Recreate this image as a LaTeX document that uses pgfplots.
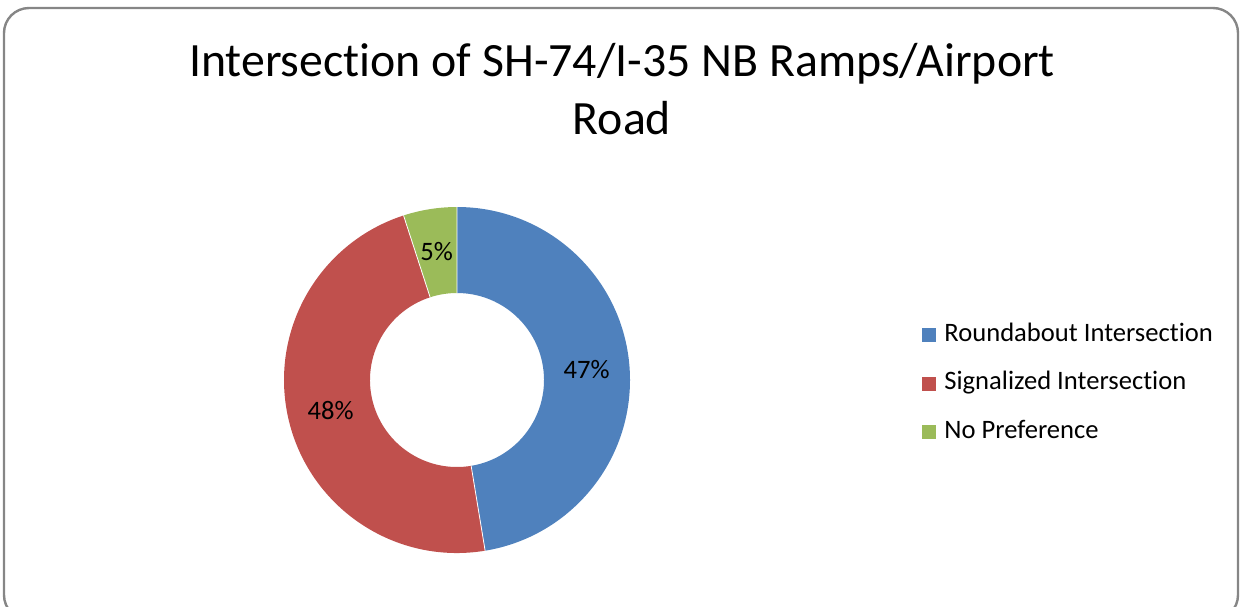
\documentclass[border=0pt]{standalone}
\usepackage{fontspec}
\setmainfont[Ligatures=NoCommon]{Carlito}
\usepackage{pgfplots}
\usepackage{pgfplotstable}
\pgfplotsset{compat=1.18}
\definecolor{cBlue}{HTML}{4F81BD}
\definecolor{cRed}{HTML}{C0504D}
\definecolor{cGreen}{HTML}{9BBB59}
\definecolor{cFrame}{HTML}{868686}

\pgfplotstableread{
name value
Roundabout 47.4
Signalized 47.6
NoPreference 5.0
}\donutdata

\begin{document}
\begin{tikzpicture}
\pgfplotstablegetelem{0}{value}\of\donutdata \let\vA\pgfplotsretval
\pgfplotstablegetelem{1}{value}\of\donutdata \let\vB\pgfplotsretval
\pgfplotstablegetelem{2}{value}\of\donutdata \let\vC\pgfplotsretval
\pgfmathsetmacro\tot{\vA+\vB+\vC}
\pgfmathsetmacro\fA{\vA/\tot}
\pgfmathsetmacro\fB{\vB/\tot}
\pgfmathsetmacro\fC{\vC/\tot}
\pgfmathsetmacro\aA{90}
\pgfmathsetmacro\aB{90-360*\fA}
\pgfmathsetmacro\aC{\aB-360*\fB}
\pgfmathsetmacro\aD{\aC-360*\fC}
\pgfmathsetmacro\mA{(\aA+\aB)/2}
\pgfmathsetmacro\mB{(\aB+\aC)/2}
\pgfmathsetmacro\mC{(\aC+\aD)/2}
\pgfmathsetmacro\xA{457+130*cos(\mA)}\pgfmathsetmacro\yA{380-130*sin(\mA)}
\pgfmathsetmacro\xB{457+130*cos(\mB)}\pgfmathsetmacro\yB{380-130*sin(\mB)}
\pgfmathsetmacro\xC{457+130*cos(\mC)}\pgfmathsetmacro\yC{380-130*sin(\mC)}
\pgfmathtruncatemacro\pA{round(100*\fA)}
\pgfmathtruncatemacro\pB{round(100*\fB)}
\pgfmathtruncatemacro\pC{round(100*\fC)}
\begin{axis}[
  scale only axis, width=620.5pt, height=303pt,
  xmin=0, xmax=1241, ymin=0, ymax=606, y dir=reverse,
  hide axis, clip=false,
  legend style={draw=none, fill=none, at={(922/1241,0.367)}, anchor=west,
    font=\fontsize{13.3}{15}\selectfont, row sep=12.25pt, column sep=4pt, inner sep=0pt,
    nodes={inner sep=0pt, text height=9pt, text depth=3pt}},
  legend cell align=left,
  legend image code/.code={\fill[#1, draw=none] (0pt,-3.5pt) rectangle (7pt,3.5pt);},
]
\addlegendimage{fill=cBlue}\addlegendentry{Roundabout Intersection}
\addlegendimage{fill=cRed}\addlegendentry{Signalized Intersection}
\addlegendimage{fill=cGreen}\addlegendentry{No Preference}

\draw[cFrame, line width=1.2pt, rounded corners=12.5pt] (axis cs:4,8) rectangle (axis cs:1238,620);

\fill[cBlue, shift={(axis cs:457,380)}] (\aA:86.5pt) arc[start angle=\aA, end angle=\aB, radius=86.5pt] -- (\aB:43.5pt) arc[start angle=\aB, end angle=\aA, radius=43.5pt] -- cycle;
\fill[cRed, shift={(axis cs:457,380)}] (\aB:86.5pt) arc[start angle=\aB, end angle=\aC, radius=86.5pt] -- (\aC:43.5pt) arc[start angle=\aC, end angle=\aB, radius=43.5pt] -- cycle;
\fill[cGreen, shift={(axis cs:457,380)}] (\aC:86.5pt) arc[start angle=\aC, end angle=\aD, radius=86.5pt] -- (\aD:43.5pt) arc[start angle=\aD, end angle=\aC, radius=43.5pt] -- cycle;
\draw[white, line width=0.4pt, shift={(axis cs:457,380)}] (\aA:43.5pt) -- (\aA:86.5pt) (\aB:43.5pt) -- (\aB:86.5pt) (\aC:43.5pt) -- (\aC:86.5pt);

\node[font=\fontsize{13.3}{15}\selectfont] at (axis cs:\xA,\yA) {\pA\%};
\node[font=\fontsize{13.3}{15}\selectfont] at (axis cs:\xB,\yB) {\pB\%};
\node[font=\fontsize{13.3}{15}\selectfont] at (axis cs:\xC,\yC) {\pC\%};

\node[font=\fontsize{23.9}{29}\selectfont, align=center] at (axis cs:622,89) {Intersection of SH-74/I-35 NB Ramps/Airport\\Road};
\end{axis}
\pgfresetboundingbox
\path[use as bounding box] (0,0) rectangle (620.5pt,303pt);
\end{tikzpicture}
\end{document}
